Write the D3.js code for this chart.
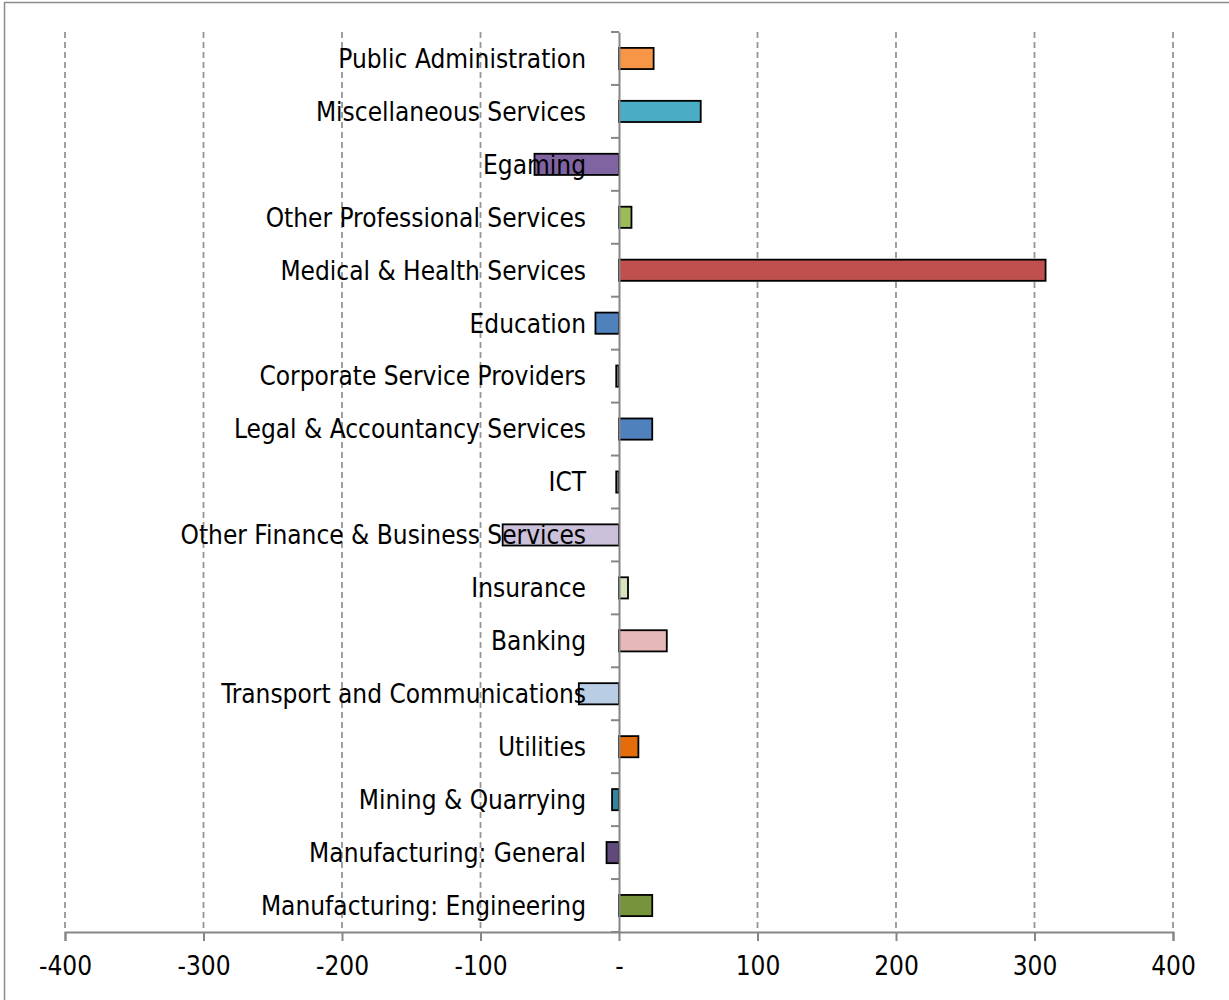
<!DOCTYPE html>
<html>
<head>
<meta charset="utf-8">
<script src="https://cdn.jsdelivr.net/npm/d3@7"></script>
<style>
  body { margin: 0; background: #fff; }
  text { font-family: "DejaVu Sans Condensed", "DejaVu Sans", sans-serif; font-stretch: condensed; }
</style>
</head>
<body>
<div class="viz"></div>
<script>
var categories = ["Public Administration", "Miscellaneous Services", "Egaming", "Other Professional Services",
    "Medical & Health Services", "Education", "Corporate Service Providers", "Legal & Accountancy Services",
    "ICT", "Other Finance & Business Services", "Insurance", "Banking", "Transport and Communications",
    "Utilities", "Mining & Quarrying", "Manufacturing: General", "Manufacturing: Engineering"];
var values = [25, 59, -61, 9, 308, -17, -2, 24, -2, -84, 6.5, 34.5, -29, 14, -5, -9, 24];
var colors = ["#F79646", "#4BACC6", "#8064A2", "#9BBB59", "#C0504D", "#4F81BD", "#7F7F7F", "#4F81BD",
    "#7F7F7F", "#CCC1DA", "#D7E4BD", "#E6B9B8", "#B9CDE5", "#E46C0A", "#31859C", "#604A7B", "#77933C"];
var xTicks = [-400, -300, -200, -100, 0, 100, 200, 300, 400];

var w = 1229;
var h = 1000;

var xScale = d3.scaleLinear()
    .domain([-400, 400])
    .range([65, 1173]);

var yScale = d3.scaleBand()
    .domain(categories)
    .range([32, 932]);

var svg = d3.select(".viz")
    .append("svg")
    .attr("width", w)
    .attr("height", h);

// outer border
svg.append("rect")
    .attr("x", 4.5)
    .attr("y", 2.5)
    .attr("width", w + 20)
    .attr("height", h + 20)
    .attr("fill", "none")
    .attr("stroke", "#8c8c8c")
    .attr("stroke-width", 1.5);

// gridlines
svg.selectAll(".grid")
    .data(xTicks.filter(function(d) { return d !== 0; }))
    .enter()
    .append("line")
    .attr("class", "grid")
    .attr("x1", function(d) { return xScale(d); })
    .attr("x2", function(d) { return xScale(d); })
    .attr("y1", 32)
    .attr("y2", 932)
    .attr("stroke", "#969696")
    .attr("stroke-width", 1.8)
    .attr("stroke-dasharray", "6,4");

// x axis
var xAxis = d3.axisBottom(xScale)
    .tickValues(xTicks)
    .tickSize(9)
    .tickPadding(16)
    .tickFormat(function(d) { return d === 0 ? "-" : d; });

var gx = svg.append("g")
    .attr("class", "x axis")
    .attr("transform", "translate(0,932)")
    .call(xAxis);
gx.select(".domain").attr("stroke", "#868686").attr("stroke-width", 2);
gx.selectAll(".tick line").attr("stroke", "#868686").attr("stroke-width", 2);
gx.selectAll(".tick text")
    .attr("font-size", "26px")
    .attr("fill", "#000")
    .style("font-family", "'DejaVu Sans Condensed', 'DejaVu Sans', sans-serif");

// bars
var barH = yScale.bandwidth() * 0.4;
svg.selectAll(".bar")
    .data(values)
    .enter()
    .append("rect")
    .attr("class", "bar")
    .attr("x", function(d) { return xScale(Math.min(0, d)); })
    .attr("y", function(d, i) { return yScale(categories[i]) + (yScale.bandwidth() - barH) / 2; })
    .attr("width", function(d) { return Math.abs(xScale(d) - xScale(0)); })
    .attr("height", barH)
    .attr("fill", function(d, i) { return colors[i]; })
    .attr("stroke", "#000")
    .attr("stroke-width", 1.8);

// category axis on zero line
var yAxis = d3.axisLeft(yScale)
    .tickSize(0)
    .tickFormat("");
var gy = svg.append("g")
    .attr("class", "y axis")
    .attr("transform", "translate(" + xScale(0) + ",0)")
    .call(yAxis);
gy.select(".domain").attr("stroke", "#868686").attr("stroke-width", 2);

var bounds = categories.map(function(c) { return yScale(c); }).concat([932]);
gy.selectAll(".cat-tick")
    .data(bounds)
    .enter()
    .append("line")
    .attr("class", "cat-tick")
    .attr("x1", -8)
    .attr("x2", 0)
    .attr("y1", function(d) { return d; })
    .attr("y2", function(d) { return d; })
    .attr("stroke", "#868686")
    .attr("stroke-width", 2);

// category labels
svg.selectAll(".label")
    .data(categories)
    .enter()
    .append("text")
    .attr("class", "label")
    .attr("x", xScale(0) - 33)
    .attr("y", function(d) { return yScale(d) + yScale.bandwidth() / 2; })
    .attr("dy", "0.36em")
    .attr("text-anchor", "end")
    .attr("font-size", "26px")
    .attr("fill", "#000")
    .text(function(d) { return d; });
</script>
</body>
</html>
